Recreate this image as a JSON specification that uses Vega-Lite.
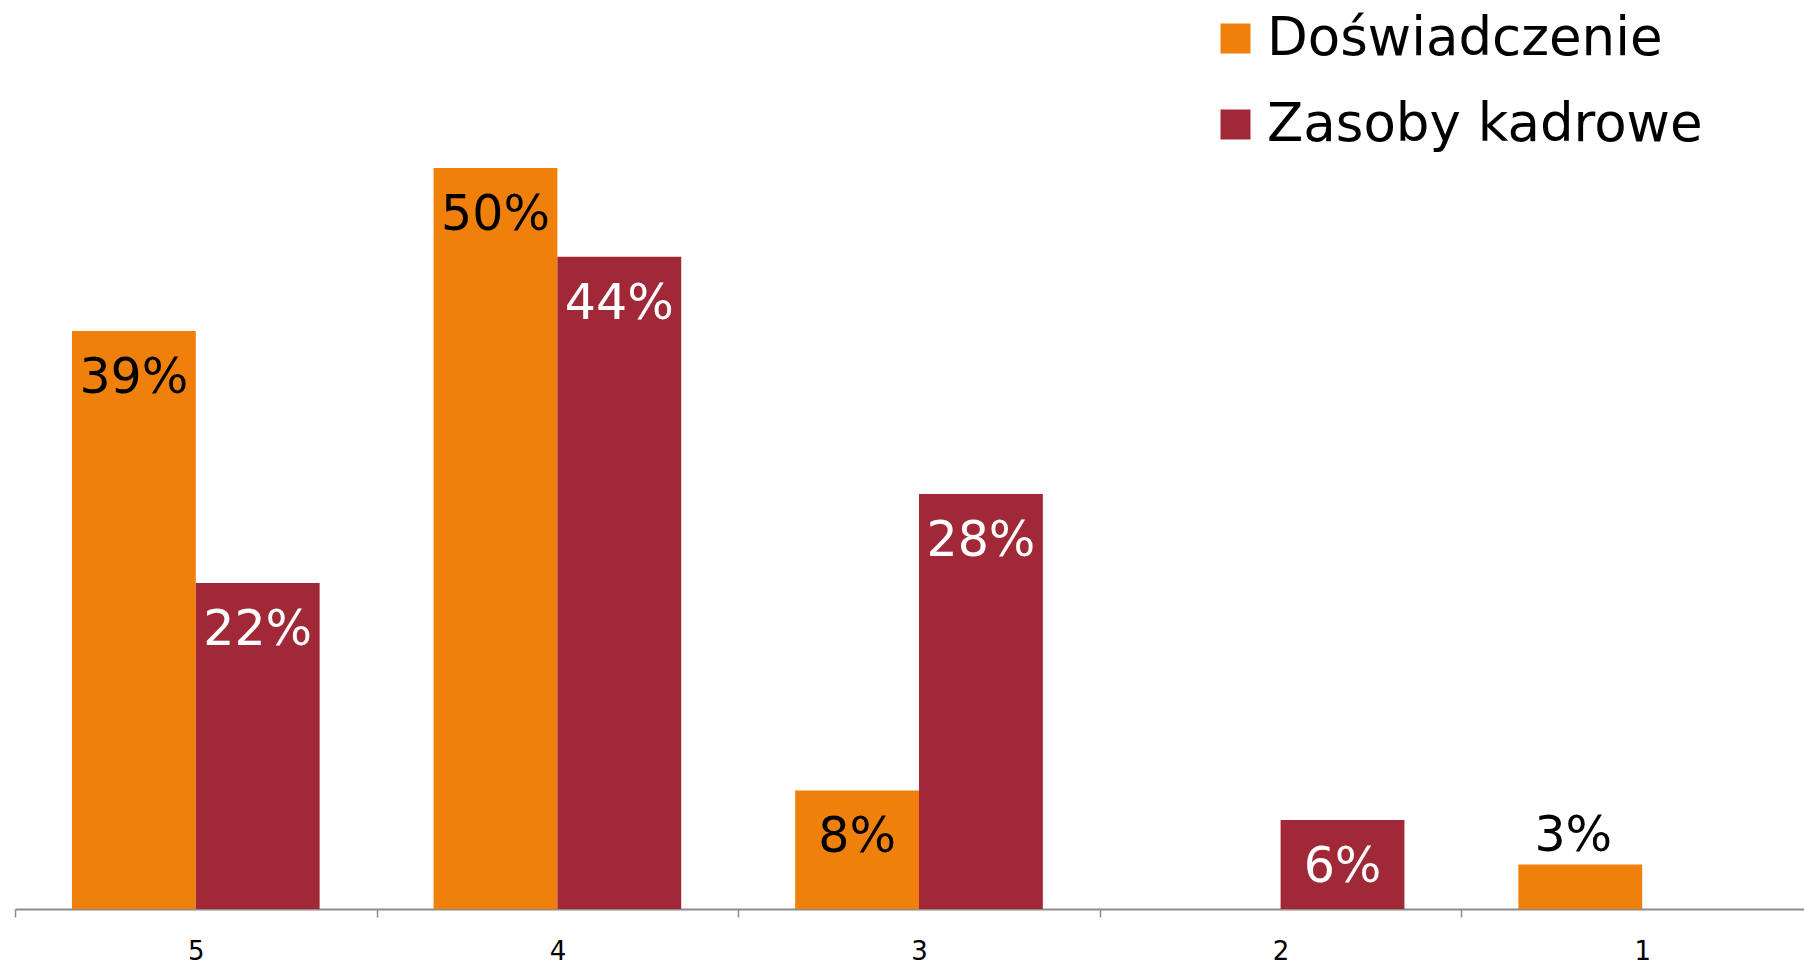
{
  "$schema": "https://vega.github.io/schema/vega-lite/v6.json",
  "autosize": {"type": "none"},
  "width": 1789,
  "height": 909,
  "padding": {"left": 15, "top": 0, "right": 0, "bottom": 56},
  "background": "white",
  "data": {
    "values": [
      {"cat": "5", "series": "Doświadczenie", "value": 0.39},
      {"cat": "5", "series": "Zasoby kadrowe", "value": 0.22},
      {"cat": "4", "series": "Doświadczenie", "value": 0.50},
      {"cat": "4", "series": "Zasoby kadrowe", "value": 0.44},
      {"cat": "3", "series": "Doświadczenie", "value": 0.08},
      {"cat": "3", "series": "Zasoby kadrowe", "value": 0.28},
      {"cat": "2", "series": "Zasoby kadrowe", "value": 0.06},
      {"cat": "1", "series": "Doświadczenie", "value": 0.03}
    ]
  },
  "encoding": {
    "x": {
      "field": "cat",
      "type": "nominal",
      "sort": ["5", "4", "3", "2", "1"],
      "scale": {"domain": ["5", "4", "3", "2", "1"], "range": [0, 1808], "paddingInner": 0, "paddingOuter": 0},
      "axis": {
        "title": null,
        "labelAngle": 0,
        "tickBand": "extent",
        "domainColor": "#8c8c8c",
        "domainWidth": 2,
        "tickColor": "#8c8c8c",
        "tickWidth": 1.5,
        "tickSize": 8,
        "labelFont": "DejaVu Sans",
        "labelFontSize": 26,
        "labelColor": "black",
        "labelBaseline": "alphabetic",
        "labelPadding": 42
      }
    },
    "xOffset": {
      "field": "series",
      "type": "nominal",
      "scale": {"domain": ["Doświadczenie", "Zasoby kadrowe"], "paddingInner": 0, "paddingOuter": 0.46}
    },
    "y": {
      "field": "value",
      "type": "quantitative",
      "scale": {"domain": [0, 0.6133], "nice": false, "zero": true},
      "axis": null
    }
  },
  "layer": [
    {
      "mark": {"type": "bar"},
      "encoding": {
        "color": {
          "field": "series",
          "type": "nominal",
          "scale": {"domain": ["Doświadczenie", "Zasoby kadrowe"], "range": ["#F0800C", "#A12837"]},
          "legend": {
            "title": null,
            "orient": "none",
            "legendX": 1194,
            "legendY": 12,
            "padding": 0,
            "symbolType": "square",
            "symbolSize": 900,
            "symbolStrokeWidth": 0,
            "symbolOpacity": 1,
            "labelFont": "DejaVu Sans",
            "labelFontSize": 53,
            "labelColor": "black",
            "labelOffset": 5,
            "labelLimit": 800,
            "rowPadding": 32
          }
        }
      }
    },
    {
      "transform": [{"filter": "datum.value >= 0.05"}],
      "mark": {"type": "text", "font": "DejaVu Sans", "fontSize": 49, "baseline": "alphabetic", "align": "center", "dy": 62},
      "encoding": {
        "text": {"field": "value", "type": "quantitative", "format": ".0%"},
        "color": {"condition": {"test": "datum.series === 'Zasoby kadrowe'", "value": "white"}, "value": "black"}
      }
    },
    {
      "transform": [{"filter": "datum.value < 0.05"}],
      "mark": {"type": "text", "font": "DejaVu Sans", "fontSize": 49, "baseline": "alphabetic", "align": "center", "dy": -14, "dx": -7, "color": "black"},
      "encoding": {
        "text": {"field": "value", "type": "quantitative", "format": ".0%"}
      }
    }
  ],
  "config": {
    "view": {"stroke": null}
  }
}
